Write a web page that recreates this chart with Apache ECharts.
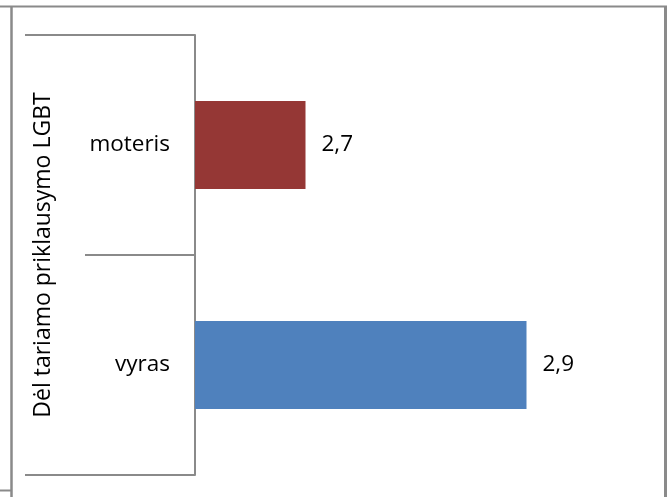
<!DOCTYPE html>
<html>
<head>
<meta charset="utf-8">
<script src="https://cdn.jsdelivr.net/npm/echarts@6/dist/echarts.min.js"></script>
<style>
  html, body { margin: 0; padding: 0; background: #fff; }
  #chart { width: 670px; height: 497px; }
</style>
</head>
<body>
<div id="chart"></div>
<script>
// 数据
const categories = ['vyras', 'moteris'];
const values = [2.9, 2.7];
const groupLabel = ['Dėl tariamo priklausymo LGBT'];

// 样式
const barColors = ['#4F81BD', '#953735'];
const axisGray = '#8a8a8a';
const font = 'Open Sans';

const chart = echarts.init(document.getElementById('chart'));

const option = {
    backgroundColor: '#fff',
    animation: false,
    grid: { left: 195, right: 33, top: 35, bottom: 22 },
    xAxis: {
        type: 'value',
        min: 2.6,
        max: 3.0,
        axisLine: { show: false },
        axisTick: { show: false },
        axisLabel: { show: false },
        splitLine: { show: false }
    },
    yAxis: [
        {
            type: 'category',
            position: 'left',
            data: categories,
            axisLine: { show: true, lineStyle: { color: axisGray, width: 2 } },
            axisTick: { show: true, length: 110, lineStyle: { color: axisGray, width: 2 } },
            axisLabel: { margin: 25, fontFamily: font, fontSize: 22.5, color: '#000' }
        },
        {
            type: 'category',
            position: 'left',
            data: groupLabel,
            axisLine: { show: false },
            axisTick: { show: true, length: 170, lineStyle: { color: axisGray, width: 2 } },
            axisLabel: { rotate: 90, margin: 140, fontFamily: font, fontSize: 23, color: '#000' }
        }
    ],
    series: [{
        type: 'bar',
        yAxisIndex: 0,
        data: values,
        barWidth: 88,
        itemStyle: {
            color: function (p) { return barColors[p.dataIndex]; }
        },
        label: {
            show: true,
            position: 'right',
            distance: 16,
            fontFamily: font,
            fontSize: 22.5,
            color: '#000',
            formatter: function (p) { return String(p.value).replace('.', ','); }
        }
    }],
    // 外框
    graphic: [
        { type: 'line', shape: { x1: 0, y1: 6.5, x2: 667, y2: 6.5 }, style: { stroke: axisGray, lineWidth: 2 } },
        { type: 'line', shape: { x1: 11.5, y1: 6, x2: 11.5, y2: 497 }, style: { stroke: axisGray, lineWidth: 2.5 } },
        { type: 'line', shape: { x1: 665.5, y1: 6, x2: 665.5, y2: 497 }, style: { stroke: '#8a8a8a', lineWidth: 3 } },
        { type: 'line', shape: { x1: 0, y1: 490.5, x2: 11, y2: 490.5 }, style: { stroke: axisGray, lineWidth: 2 } }
    ]
};

chart.setOption(option);
</script>
</body>
</html>
